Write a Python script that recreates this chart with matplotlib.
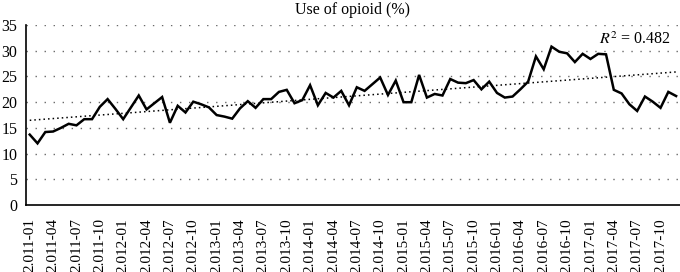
import numpy as np
import matplotlib
matplotlib.use("Agg")
import matplotlib.pyplot as plt

plt.rcParams['font.family'] = ['Liberation Serif', 'DejaVu Serif']
plt.rcParams['mathtext.fontset'] = 'stix'

# monthly share of opioid use (%), 2011-01 .. 2017-12
months = [f"{y}-{m:02d}" for y in range(2011, 2018) for m in range(1, 13)]
opioid = [13.7, 12.0, 14.2, 14.3, 15.0, 15.8, 15.5, 16.7, 16.7, 19.1, 20.6, 18.7,
          16.7, 19.0, 21.3, 18.6, 19.8, 21.0, 16.0, 19.3, 18.0, 20.1, 19.6, 19.0,
          17.5, 17.2, 16.8, 18.8, 20.2, 18.9, 20.6, 20.6, 22.0, 22.4, 19.8, 20.4,
          23.3, 19.4, 21.8, 20.9, 22.2, 19.4, 22.9, 22.2, 23.5, 24.8, 21.4, 24.2,
          20.0, 20.0, 25.3, 20.9, 21.6, 21.3, 24.5, 23.8, 23.7, 24.3, 22.5, 24.0,
          21.8, 20.9, 21.1, 22.5, 24.0, 28.9, 26.4, 30.8, 29.8, 29.5, 27.8, 29.4,
          28.4, 29.4, 29.3, 22.4, 21.7, 19.6, 18.3, 21.1, 20.1, 18.9, 22.0, 21.2]
r2_text = "0.482"

# tick labels every 3 months, as printed in the source
tick_pos = list(range(0, len(months), 3))
tick_labels = [months[i][0] + "." + months[i][1:] for i in tick_pos]

x = np.arange(len(opioid))
slope, icpt = np.polyfit(x, opioid, 1)

fig = plt.figure(figsize=(6.8, 2.72), dpi=100)
ax = fig.add_axes([0.038, 0.246, 0.962, 0.662])

for yv in range(5, 40, 5):
    ax.axhline(yv, color='#6a6a6a', lw=1.0, ls=(0, (1, 5.5)), zorder=0)

ax.plot(x, opioid, color='black', lw=1.8, solid_joinstyle='miter', zorder=3)
ax.plot(x, slope * x + icpt, color='black', lw=1.1, ls=(0, (1, 2)), zorder=2)

ax.text(82.4, 32.1, "$R^2$ = " + r2_text, ha='right', va='center', fontsize=11.5)

ax.set_xlim(-0.5, len(opioid) - 0.5)
ax.set_ylim(0, 35)
ax.set_yticks(range(0, 40, 5))
ax.set_xticks(tick_pos)
ax.set_xticklabels(tick_labels, rotation=90, va='top', ha='center')
ax.tick_params(axis='x', length=0, pad=9.5, labelsize=11)
ax.tick_params(axis='y', length=0, pad=6, labelsize=11.5)

for side in ['top', 'right']:
    ax.spines[side].set_visible(False)
ax.spines['left'].set_linewidth(1.2)
ax.spines['bottom'].set_linewidth(1.2)

ax.set_title("Use of opioid (%)", fontsize=11.5, pad=8)

fig.savefig("out.png", dpi=100)
